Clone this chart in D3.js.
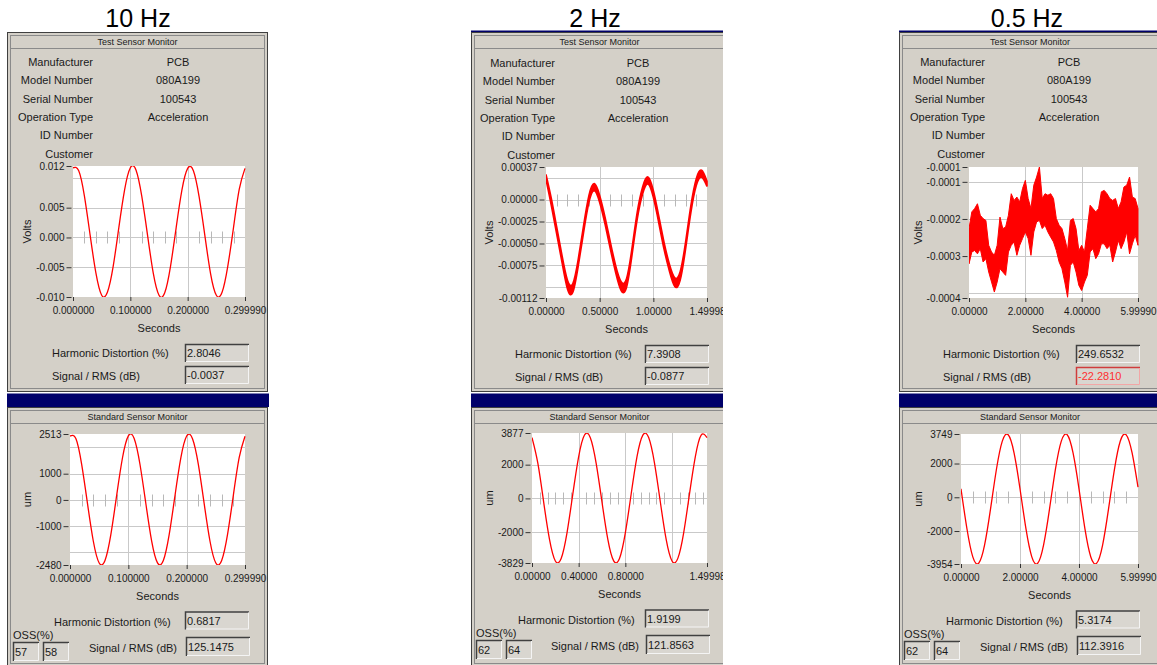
<!DOCTYPE html>
<html>
<head>
<meta charset="utf-8">
<script src="https://cdn.jsdelivr.net/npm/d3@7"></script>
<style>
  body { margin: 0; background: #fff; }
  svg { display: block; font-family: "Liberation Sans", Arial, sans-serif; }
</style>
</head>
<body>
<svg id="main" width="1157" height="665"></svg>
<script>
// ---------------- data ----------------
var panelTitles = ["10 Hz", "2 Hz", "0.5 Hz"];
var infoLabels = ["Manufacturer", "Model Number", "Serial Number", "Operation Type", "ID Number", "Customer"];
var infoValues = ["PCB", "080A199", "100543", "Acceleration", "", ""];

var harmonicTest = ["2.8046", "7.3908", "249.6532"];
var signalRmsTest = ["-0.0037", "-0.0877", "-22.2810"];
var harmonicStd = ["0.6817", "1.9199", "5.3174"];
var signalRmsStd = ["125.1475", "121.8563", "112.3916"];
var ossValues = [["57", "58"], ["62", "64"], ["62", "64"]];

// sample times (seconds)
var secs10 = [0, 0.01, 0.02, 0.03, 0.04, 0.05, 0.06, 0.07, 0.08, 0.09, 0.10, 0.11, 0.12, 0.13, 0.14, 0.15,
  0.16, 0.17, 0.18, 0.19, 0.20, 0.21, 0.22, 0.23, 0.24, 0.25, 0.26, 0.27, 0.28, 0.29, 0.29999];
var secs2 = [0, 0.05, 0.10, 0.15, 0.20, 0.25, 0.30, 0.35, 0.40, 0.45, 0.50, 0.55, 0.60, 0.65, 0.70, 0.75,
  0.80, 0.85, 0.90, 0.95, 1.00, 1.05, 1.10, 1.15, 1.20, 1.25, 1.30, 1.35, 1.40, 1.45, 1.49998];
var secs05 = [0, 0.2, 0.4, 0.6, 0.8, 1.0, 1.2, 1.4, 1.6, 1.8, 2.0, 2.2, 2.4, 2.6, 2.8, 3.0,
  3.2, 3.4, 3.6, 3.8, 4.0, 4.2, 4.4, 4.6, 4.8, 5.0, 5.2, 5.4, 5.6, 5.8, 5.9999];
var secs05fine = [0, 0.1, 0.2, 0.3, 0.4, 0.5, 0.6, 0.7, 0.8, 0.9, 1.0, 1.1, 1.2, 1.3, 1.4, 1.5,
  1.6, 1.7, 1.8, 1.9, 2.0, 2.1, 2.2, 2.3, 2.4, 2.5, 2.6, 2.7, 2.8, 2.9, 3.0, 3.1, 3.2, 3.3, 3.4, 3.5,
  3.6, 3.7, 3.8, 3.9, 4.0, 4.1, 4.2, 4.3, 4.4, 4.5, 4.6, 4.7, 4.8, 4.9, 5.0, 5.1, 5.2, 5.3, 5.4, 5.5,
  5.6, 5.7, 5.8, 5.9, 5.9999];

// 10 Hz: test sensor (Volts) and standard sensor (um)
var volts10 = [0.0117, 0.0112, 0.0069, 0.0003, -0.0060, -0.0097, -0.0092, -0.0049, 0.0017, 0.0080,
  0.0117, 0.0113, 0.0069, 0.0004, -0.0060, -0.0097, -0.0093, -0.0049, 0.0017, 0.0080,
  0.0116, 0.0112, 0.0068, 0.0003, -0.0061, -0.0097, -0.0092, -0.0048, 0.0017, 0.0081, 0.0116];
var um10 = [2435, 2338, 1354, -140, -1575, -2402, -2305, -1321, 173, 1608,
  2440, 2340, 1350, -135, -1570, -2400, -2310, -1325, 170, 1605,
  2435, 2335, 1355, -140, -1575, -2405, -2305, -1320, 175, 1610, 2430];

// 2 Hz: noisy test trace (centre and half-width of the band), standard sensor
var volts2Mid = [0.000256, -0.000031, -0.000355, -0.00068, -0.000967, -0.001005, -0.00072, -0.000336,
  0.000007, 0.000141, 0.000007, -0.00024, -0.000527, -0.000795, -0.000985, -0.00095, -0.000604,
  -0.000183, 0.000103, 0.000217, 0.000064, -0.000222, -0.000527, -0.000776, -0.00094, -0.00087,
  -0.000527, -0.000107, 0.000198, 0.000294, 0.000179];
var volts2Noise = [0.00003, 0.00004, 0.00004, 0.00004, 0.00005, 0.00005, 0.00004, 0.00004, 0.00004,
  0.00004, 0.00004, 0.00004, 0.00004, 0.00004, 0.00005, 0.00005, 0.00004, 0.00004, 0.00004, 0.00004,
  0.00004, 0.00004, 0.00004, 0.00004, 0.00005, 0.00005, 0.00004, 0.00004, 0.00004, 0.00004, 0.00003];
var um2 = [3607, 2088, -218, -2432, -3708, -3558, -2040, 266, 2480, 3756,
  3600, 2080, -220, -2430, -3705, -3560, -2045, 260, 2475, 3750,
  3605, 2090, -215, -2435, -3710, -3555, -2040, 270, 2480, 3755, 3600];

// 0.5 Hz: very noisy test trace, upper and lower edge of the band (Volts)
var volts05Hi = [-0.000226, -0.000181, -0.000172, -0.000159, -0.00019, -0.000199, -0.000204, -0.000271,
  -0.000289, -0.000298, -0.000271, -0.000195, -0.000226, -0.000222, -0.00019, -0.000132, -0.00015,
  -0.000141, -0.000154, -0.000118, -0.000096, -0.000145, -0.000172, -0.000109, -0.000087, -0.00006,
  -0.000145, -0.000132, -0.000136, -0.000132, -0.000145, -0.000199, -0.000217, -0.000226, -0.000253,
  -0.000285, -0.000204, -0.000199, -0.000226, -0.000285, -0.000271, -0.000289, -0.000226, -0.000163,
  -0.000172, -0.000181, -0.000172, -0.000127, -0.000123, -0.000132, -0.000145, -0.00015, -0.000145,
  -0.000172, -0.000154, -0.000114, -0.000109, -0.000087, -0.000141, -0.000145, -0.000172];
var volts05Lo = [-0.000321, -0.000289, -0.000285, -0.000294, -0.00028, -0.000316, -0.000307, -0.000343,
  -0.00037, -0.000397, -0.00037, -0.000334, -0.000343, -0.000352, -0.000289, -0.000271, -0.000262,
  -0.000298, -0.000271, -0.000253, -0.000235, -0.000253, -0.000298, -0.000235, -0.000208, -0.000204,
  -0.000226, -0.000217, -0.000235, -0.000249, -0.000262, -0.000285, -0.000316, -0.000334, -0.00037,
  -0.000411, -0.000325, -0.000316, -0.000343, -0.000379, -0.000393, -0.00037, -0.000352, -0.000289,
  -0.00028, -0.000307, -0.000294, -0.000267, -0.000267, -0.00028, -0.000271, -0.000316, -0.000289,
  -0.000258, -0.00028, -0.000262, -0.000235, -0.000294, -0.000267, -0.000244, -0.000271];
var um05 = [500, -1850, -3533, -3906, -2825, -704, 1646, 3329, 3702, 2621,
  505, -1845, -3530, -3910, -2820, -700, 1650, 3325, 3705, 2615,
  500, -1855, -3535, -3905, -2830, -705, 1640, 3330, 3700, 2625, 600];

// axis ticks (labelled), grid lines and the small ticks drawn on the zero line
var xTicks10 = [0, 0.1, 0.2, 0.29999], xGrid10 = [0.1, 0.2];
var minor10 = [0.02, 0.04, 0.06, 0.08, 0.12, 0.14, 0.16, 0.18, 0.22, 0.24, 0.26, 0.28];
var yTicks10Test = [0.012, 0.005, 0, -0.005, -0.010], yGrid10Test = [0.010, 0.005, 0, -0.005];
var yTicks10Std = [2513, 1000, 0, -1000, -2480], yGrid10Std = [2000, 1000, 0, -1000, -2000];

var xTicks2Test = [0, 0.5, 1.0, 1.49998], xGrid2Test = [0.5, 1.0];
var minor2Test = [0.1, 0.2, 0.3, 0.4, 0.6, 0.7, 0.8, 0.9, 1.1, 1.2, 1.3, 1.4];
var xTicks2Std = [0, 0.4, 0.8, 1.49998], xGrid2Std = [0.4, 0.8, 1.2];
var minor2Std = [0.0667, 0.1333, 0.2, 0.2667, 0.3333, 0.4667, 0.5333, 0.6, 0.6667, 0.7333, 0.8667,
  0.9333, 1.0, 1.0667, 1.1333, 1.2667, 1.3333, 1.4, 1.4667];
var yTicks2Test = [0.00037, 0, -0.00025, -0.0005, -0.00075, -0.00112];
var yGrid2Test = [0.00025, 0, -0.00025, -0.0005, -0.00075, -0.001];
var yTicks2Std = [3877, 2000, 0, -2000, -3829], yGrid2Std = [2000, 0, -2000];

var xTicks05 = [0, 2, 4, 5.9999], xGrid05 = [2, 4];
var minor05 = [0.4, 0.8, 1.2, 1.6, 2.4, 2.8, 3.2, 3.6, 4.4, 4.8, 5.2, 5.6];
var yTicks05Test = [-0.00006, -0.0001, -0.0002, -0.0003, -0.000413];
var yGrid05Test = [-0.0001, -0.0002, -0.0003, -0.0004];
var yTicks05Std = [3749, 2000, 0, -2000, -3954], yGrid05Std = [2000, 0, -2000];

// ---------------- layout of the three screenshots ----------------
var layout = [
  {x0: 7, x1: 268, clipX: 269, navyTop: false, titleX: 138, labelX: 93, valueX: 178, yLabX: 27,
   top: {x: 73, y: 166, w: 172, h: 131}, bot: {x: 70, y: 434, w: 175, h: 131},
   topTextX: 52, botHdX: 54, botSigX: 89, boxX: 185, ossX: 13},
  {x0: 471, x1: 728, clipX: 723, navyTop: true, titleX: 595, labelX: 555, valueX: 638, yLabX: 489,
   top: {x: 546, y: 167, w: 161, h: 131}, bot: {x: 532, y: 433, w: 175, h: 130},
   topTextX: 515, botHdX: 518, botSigX: 551, boxX: 645, ossX: 476},
  {x0: 899, x1: 1161, clipX: 1157, navyTop: true, titleX: 1027, labelX: 985, valueX: 1069, yLabX: 918,
   top: {x: 969, y: 167, w: 169, h: 131}, bot: {x: 961, y: 434, w: 177, h: 130},
   topTextX: 943, botHdX: 946, botSigX: 980, boxX: 1076, ossX: 904}
];

var charts = [
  {
    test: {xDomain: [0, 0.29999], xTicks: xTicks10, xDec: 6, xGrid: xGrid10, minor: minor10,
      yDomain: [-0.010, 0.012], yTicks: yTicks10Test, yDec: 3, yGrid: yGrid10Test, yLabel: "Volts",
      kind: "line", xs: secs10, ys: volts10},
    std: {xDomain: [0, 0.29999], xTicks: xTicks10, xDec: 6, xGrid: xGrid10, minor: minor10,
      yDomain: [-2480, 2513], yTicks: yTicks10Std, yDec: 0, yGrid: yGrid10Std, yLabel: "um",
      kind: "line", xs: secs10, ys: um10}
  },
  {
    test: {xDomain: [0, 1.49998], xTicks: xTicks2Test, xDec: 5, xGrid: xGrid2Test, minor: minor2Test,
      yDomain: [-0.00112, 0.00037], yTicks: yTicks2Test, yDec: 5, yGrid: yGrid2Test, yLabel: "Volts",
      kind: "band", xs: secs2, mid: volts2Mid, noise: volts2Noise},
    std: {xDomain: [0, 1.49998], xTicks: xTicks2Std, xDec: 5, xGrid: xGrid2Std, minor: minor2Std,
      yDomain: [-3829, 3877], yTicks: yTicks2Std, yDec: 0, yGrid: yGrid2Std, yLabel: "um",
      kind: "line", xs: secs2, ys: um2}
  },
  {
    test: {xDomain: [0, 5.9999], xTicks: xTicks05, xDec: 5, xGrid: xGrid05, minor: [],
      yDomain: [-0.000413, -0.00006], yTicks: yTicks05Test, yDec: 4, yGrid: yGrid05Test, yLabel: "Volts",
      kind: "envelope", xs: secs05fine, hi: volts05Hi, lo: volts05Lo},
    std: {xDomain: [0, 5.9999], xTicks: xTicks05, xDec: 5, xGrid: xGrid05, minor: minor05,
      yDomain: [-3954, 3749], yTicks: yTicks05Std, yDec: 0, yGrid: yGrid05Std, yLabel: "um",
      kind: "line", xs: secs05, ys: um05}
  }
];

var BG = "#d4d0c8", TXT = "#1a1a1a", GRID = "#c9c9c9", NAVY = "#00006a";
var svg = d3.select("#main");

/*
  A framed section (Windows style group box) with a small header strip.
*/
function section(g, x0, x1, y0, y1, header) {
  g.append("rect")
    .attr("x", x0 + 0.5).attr("y", y0 + 0.5)
    .attr("width", x1 - x0 - 1).attr("height", y1 - y0 - 1)
    .attr("fill", BG).attr("stroke", "#404040");
  g.append("rect")
    .attr("x", x0 + 3.5).attr("y", y0 + 3.5)
    .attr("width", x1 - x0 - 7).attr("height", y1 - y0 - 7)
    .attr("fill", "none").attr("stroke", "#8a8a8a");
  g.append("line")
    .attr("x1", x0 + 3.5).attr("x2", x1 - 3.5)
    .attr("y1", y0 + 16.5).attr("y2", y0 + 16.5)
    .attr("stroke", "#8a8a8a");
  g.append("text")
    .attr("x", (x0 + x1) / 2).attr("y", y0 + 13)
    .attr("text-anchor", "middle").attr("font-size", 9).attr("fill", TXT)
    .text(header);
}

// sunken read-only field
function field(g, x, y, w, h, value, alarm) {
  var dark = alarm ? "#d03c3c" : "#404040";
  var light = alarm ? "#f2a6a6" : "#f4f4f4";
  g.append("rect").attr("x", x).attr("y", y).attr("width", w).attr("height", h).attr("fill", "#d9d6d0");
  g.append("path")
    .attr("d", "M" + (x + 0.5) + "," + (y + h) + "V" + (y + 0.5) + "H" + (x + w))
    .attr("fill", "none").attr("stroke", dark).attr("stroke-width", 1.5);
  g.append("path")
    .attr("d", "M" + (x + 1) + "," + (y + h - 0.5) + "H" + (x + w - 0.5) + "V" + (y + 1))
    .attr("fill", "none").attr("stroke", light);
  g.append("text")
    .attr("x", x + 2).attr("y", y + h / 2 + 4)
    .attr("font-size", 11).attr("fill", alarm ? "#ff3030" : TXT)
    .text(value);
}

function label(g, x, y, txt, anchor) {
  g.append("text").attr("x", x).attr("y", y)
    .attr("text-anchor", anchor || "start")
    .attr("font-size", 11).attr("fill", TXT)
    .text(txt);
}

var clipCount = 0;

function drawChart(g, box, spec, yLabX) {
  var x = d3.scaleLinear().domain(spec.xDomain).range([box.x, box.x + box.w]);
  var y = d3.scaleLinear().domain(spec.yDomain).range([box.y + box.h, box.y]);
  var bottom = box.y + box.h;

  g.append("rect")
    .attr("x", box.x).attr("y", box.y).attr("width", box.w).attr("height", box.h)
    .attr("fill", "#fff");

  // grid
  g.append("g").selectAll("line").data(spec.yGrid).join("line")
    .attr("x1", box.x).attr("x2", box.x + box.w)
    .attr("y1", function(d) { return Math.round(y(d)) + 0.5; })
    .attr("y2", function(d) { return Math.round(y(d)) + 0.5; })
    .attr("stroke", GRID);
  g.append("g").selectAll("line").data(spec.xGrid).join("line")
    .attr("x1", function(d) { return Math.round(x(d)) + 0.5; })
    .attr("x2", function(d) { return Math.round(x(d)) + 0.5; })
    .attr("y1", box.y).attr("y2", bottom)
    .attr("stroke", GRID);

  // little ticks that sit on the zero line
  if (spec.yDomain[0] < 0 && spec.yDomain[1] > 0) {
    var y0 = Math.round(y(0)) + 0.5;
    g.append("g").selectAll("line").data(spec.minor).join("line")
      .attr("x1", function(d) { return Math.round(x(d)) + 0.5; })
      .attr("x2", function(d) { return Math.round(x(d)) + 0.5; })
      .attr("y1", y0 - 6).attr("y2", y0 + 6)
      .attr("stroke", "#b8b8b8");
  }

  // trace
  var id = "clip" + (clipCount++);
  g.append("clipPath").attr("id", id).append("rect")
    .attr("x", box.x).attr("y", box.y).attr("width", box.w + 1).attr("height", box.h);
  var trace = g.append("g").attr("clip-path", "url(#" + id + ")");
  var idx = d3.range(spec.xs.length);

  if (spec.kind === "line") {
    var line = d3.line()
      .x(function(i) { return x(spec.xs[i]); })
      .y(function(i) { return y(spec.ys[i]); })
      .curve(d3.curveNatural);
    trace.append("path").attr("d", line(idx))
      .attr("fill", "none").attr("stroke", "#ff0000").attr("stroke-width", 1.3);
  } else if (spec.kind === "band") {
    var band = d3.area()
      .x(function(i) { return x(spec.xs[i]); })
      .y0(function(i) { return y(spec.mid[i] - spec.noise[i]); })
      .y1(function(i) { return y(spec.mid[i] + spec.noise[i]); })
      .curve(d3.curveNatural);
    trace.append("path").attr("d", band(idx))
      .attr("fill", "#ff0000").attr("stroke", "#ff0000").attr("stroke-width", 1.6);
  } else {
    var env = d3.area()
      .x(function(i) { return x(spec.xs[i]); })
      .y0(function(i) { return y(spec.lo[i]); })
      .y1(function(i) { return y(spec.hi[i]); });
    trace.append("path").attr("d", env(idx))
      .attr("fill", "#ff0000").attr("stroke", "#ff0000").attr("stroke-width", 1);
  }

  // axes
  var left = d3.axisLeft(y).tickValues(spec.yTicks)
    .tickFormat(function(d) { return d.toFixed(spec.yDec); })
    .tickSize(5).tickPadding(2);
  g.append("g").attr("transform", "translate(" + (box.x - 1.5) + ",0)")
    .call(left)
    .call(function(a) { a.select(".domain").remove(); })
    .attr("font-family", null).attr("font-size", 10);

  var bot = d3.axisBottom(x).tickValues(spec.xTicks)
    .tickFormat(function(d) { return d.toFixed(spec.xDec); })
    .tickSize(4).tickPadding(6);
  g.append("g").attr("transform", "translate(0," + bottom + ")")
    .call(bot)
    .call(function(a) { a.select(".domain").remove(); })
    .attr("font-family", null).attr("font-size", 10);

  g.selectAll(".tick text").attr("fill", TXT);
  g.selectAll(".tick line").attr("stroke", "#333");

  g.append("text")
    .attr("x", box.x + box.w / 2).attr("y", bottom + 35)
    .attr("text-anchor", "middle").attr("font-size", 11).attr("fill", TXT)
    .text("Seconds");
  g.append("text")
    .attr("transform", "translate(" + (yLabX + 4) + "," + (box.y + box.h / 2) + ") rotate(-90)")
    .attr("text-anchor", "middle").attr("font-size", 11).attr("fill", TXT)
    .text(spec.yLabel);
}

layout.forEach(function(p, k) {
  var root = svg.append("g");

  root.append("text")
    .attr("x", p.titleX).attr("y", 27)
    .attr("text-anchor", "middle").attr("font-size", 25).attr("fill", "#000")
    .text(panelTitles[k]);

  var cid = "panelclip" + k;
  root.append("clipPath").attr("id", cid).append("rect")
    .attr("x", p.x0 - 2).attr("y", 28).attr("width", p.clipX - p.x0 + 2).attr("height", 640);
  var g = root.append("g").attr("clip-path", "url(#" + cid + ")");

  if (p.navyTop) {
    g.append("rect").attr("x", p.x0).attr("y", 30.5).attr("width", p.x1 - p.x0).attr("height", 2)
      .attr("fill", NAVY);
  }

  // ---- test sensor block ----
  section(g, p.x0, p.x1, 32, 392, "Test Sensor Monitor");
  infoLabels.forEach(function(name, i) {
    var yy = 66 + i * 18.3 + (k === 1 ? 1 : 0);
    label(g, p.labelX, yy, name, "end");
    if (infoValues[i]) label(g, p.valueX, yy, infoValues[i], "middle");
  });
  drawChart(g, p.top, charts[k].test, p.yLabX);
  var tb = p.top.y + p.top.h;
  label(g, p.topTextX, tb + 60, "Harmonic Distortion (%)");
  field(g, p.boxX, tb + 47, 64, 18, harmonicTest[k], false);
  label(g, p.topTextX, tb + 83, "Signal / RMS (dB)");
  field(g, p.boxX, tb + 69, 64, 18, signalRmsTest[k], k === 2);

  g.append("rect").attr("x", p.x0).attr("y", 393.5).attr("width", p.x1 - p.x0 + 1).attr("height", 13.5)
    .attr("fill", NAVY);

  // ---- standard sensor block ----
  section(g, p.x0, p.x1, 407, 667, "Standard Sensor Monitor");
  drawChart(g, p.bot, charts[k].std, p.yLabX);
  var bb = p.bot.y + p.bot.h;
  label(g, p.botHdX, bb + 61, "Harmonic Distortion (%)");
  field(g, p.boxX, bb + 46.5, 64, 18, harmonicStd[k], false);
  label(g, p.botSigX, bb + 87, "Signal / RMS (dB)");
  field(g, p.boxX + 1, bb + 72, 64, 19, signalRmsStd[k], false);
  label(g, p.ossX, bb + 74, "OSS(%)");
  field(g, p.ossX, bb + 77, 26, 19, ossValues[k][0], false);
  field(g, p.ossX + 30, bb + 77, 26, 19, ossValues[k][1], false);
});
</script>
</body>
</html>
